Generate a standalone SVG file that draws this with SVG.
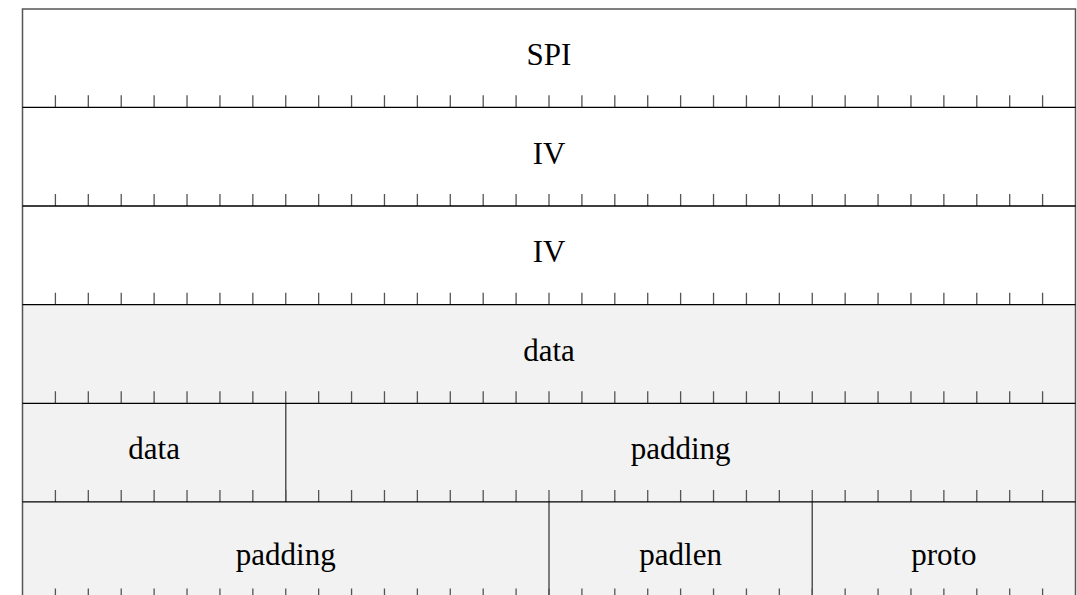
<svg xmlns="http://www.w3.org/2000/svg" xmlns:xlink="http://www.w3.org/1999/xlink" width="1077" height="595" viewBox="0 0 1077 595">
<style>
.hdr{fill:#ffffff}
.pay{fill:#f2f2f2}
.lbl{font-size:31px;fill:#000;text-anchor:middle}
.frame{stroke:#555;stroke-width:1.5;fill:none}
.row{stroke:#000;stroke-width:1.3;fill:none}
.tick{stroke:#555;stroke-width:1.3;fill:none}
</style>
<defs>
<path id="ticks" class="tick" d="M55.41 0v-12M88.31 0v-12M121.22 0v-12M154.12 0v-12M187.03 0v-12M219.94 0v-12M252.84 0v-12M285.75 0v-12M318.66 0v-12M351.56 0v-12M384.47 0v-12M417.37 0v-12M450.28 0v-12M483.19 0v-12M516.09 0v-12M549 0v-12M581.91 0v-12M614.81 0v-12M647.72 0v-12M680.62 0v-12M713.53 0v-12M746.44 0v-12M779.34 0v-12M812.25 0v-12M845.16 0v-12M878.06 0v-12M910.97 0v-12M943.87 0v-12M976.78 0v-12M1009.69 0v-12M1042.59 0v-12"/>
</defs>
<rect x="0" y="0" width="1077" height="595" fill="#ffffff"/>
<g font-family="'Liberation Serif', 'Times New Roman', serif">
<g id="spi"><rect class="hdr" x="22.5" y="8.7" width="1053" height="98.65"/><text class="lbl" x="549" y="64.5">SPI</text></g>
<g id="iv1"><rect class="hdr" x="22.5" y="107.35" width="1053" height="98.65"/><text class="lbl" x="549" y="163.5">IV</text></g>
<g id="iv2"><rect class="hdr" x="22.5" y="206" width="1053" height="98.65"/><text class="lbl" x="549" y="262.2">IV</text></g>
<g id="data1"><rect class="pay" x="22.5" y="304.65" width="1053" height="98.65"/><text class="lbl" x="549" y="360.7">data</text></g>
<g id="data2"><rect class="pay" x="22.5" y="403.3" width="263.25" height="98.65"/><text class="lbl" x="154.1" y="459.3">data</text></g>
<g id="padding1"><rect class="pay" x="285.75" y="403.3" width="789.75" height="98.65"/><text class="lbl" x="680.6" y="459.3">padding</text></g>
<g id="padding2"><rect class="pay" x="22.5" y="501.95" width="526.5" height="98.65"/><text class="lbl" x="285.8" y="564.5">padding</text></g>
<g id="padlen"><rect class="pay" x="549" y="501.95" width="263.25" height="98.65"/><text class="lbl" x="680.6" y="564.5">padlen</text></g>
<g id="proto"><rect class="pay" x="812.25" y="501.95" width="263.25" height="98.65"/><text class="lbl" x="943.9" y="564.5">proto</text></g>
</g>
<g id="connectors">
<use xlink:href="#ticks" href="#ticks" y="107.35"/>
<use xlink:href="#ticks" href="#ticks" y="206"/>
<use xlink:href="#ticks" href="#ticks" y="304.65"/>
<use xlink:href="#ticks" href="#ticks" y="403.3"/>
<use xlink:href="#ticks" href="#ticks" y="501.95"/>
<use xlink:href="#ticks" href="#ticks" y="600.6"/>
<path class="frame" d="M22.5 600V9H1075.5V600"/>
<path class="frame" d="M285.75 403.3V501.95M549 501.95V600.6M812.25 501.95V600.6"/>
<path class="row" d="M22.5 107.35H1075.5M22.5 206H1075.5M22.5 304.65H1075.5M22.5 403.3H1075.5M22.5 501.95H1075.5"/>
</g>
</svg>
